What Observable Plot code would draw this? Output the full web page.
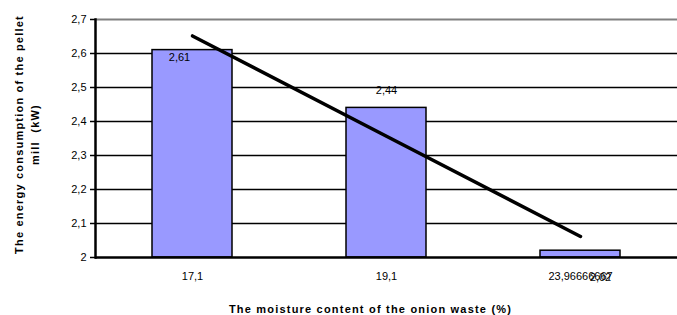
<!DOCTYPE html>
<html>
<head>
<meta charset="utf-8">
<script src="https://cdn.jsdelivr.net/npm/d3@7"></script>
<script src="https://cdn.jsdelivr.net/npm/@observablehq/plot@0.6"></script>
<style>
  html, body { margin: 0; padding: 0; background: #fff; }
  svg { font-family: "Liberation Sans", Arial, sans-serif; }
</style>
</head>
<body>
<div id="chart"></div>
<script>
// ---- data ----
const categories = ["17,1", "19,1", "23,96666667"];
const values = [2.61, 2.44, 2.02];
const valueLabels = ["2,61", "2,44", "2,02"];
const yTicks = [2, 2.1, 2.2, 2.3, 2.4, 2.5, 2.6, 2.7];
const yTickLabels = ["2", "2,1", "2,2", "2,3", "2,4", "2,5", "2,6", "2,7"];
const yDomain = [2, 2.7];
const xTitle = "The moisture content of the onion waste (%)";
const yTitle = "The energy consumption of the pellet\nmill  (kW)";

const rows = categories.map((c, i) => ({cat: c, value: values[i], label: valueLabels[i], i}));

// linear trend line (least squares over category index, as in the spreadsheet)
const xs = values.map((_, i) => i + 1);
const mx = d3.mean(xs), my = d3.mean(values);
const slope = d3.sum(xs.map((x, i) => (x - mx) * (values[i] - my))) / d3.sum(xs.map(x => (x - mx) ** 2));
const trend = categories.map((c, i) => ({cat: c, value: my + slope * (xs[i] - mx)}));

const labelOffsets = [[-13, 7], [0, -17], [20, 27]];

const plot = Plot.plot({
  width: 677,
  height: 315,
  marginLeft: 95,
  marginRight: 0,
  marginTop: 19,
  marginBottom: 58,
  style: {fontFamily: "Liberation Sans, Arial, sans-serif", fontSize: "11px", color: "#000"},
  x: {domain: categories, paddingInner: 0.59, paddingOuter: 0.295, label: null},
  y: {domain: yDomain, label: null},
  marks: [
    Plot.ruleY(yTicks.filter(t => t > yDomain[0] && t < yDomain[1]), {stroke: "#000", strokeWidth: 1.6}),
    Plot.ruleY([yDomain[1]], {stroke: "#808080", strokeWidth: 2}),
    Plot.barY(rows, {x: "cat", y1: () => yDomain[0], y2: "value", fill: "#9999ff", stroke: "#000", strokeWidth: 1.5}),
    Plot.line(trend, {x: "cat", y: "value", stroke: "#000", strokeWidth: 3.5}),
    Plot.ruleY([yDomain[0]], {stroke: "#000", strokeWidth: 2.5}),
    Plot.frame({anchor: "left", stroke: "#000", strokeWidth: 2.5}),
    Plot.axisY({ticks: yTicks, tickFormat: d => yTickLabels[yTicks.indexOf(d)], tickSize: 5, tickPadding: 4, stroke: "#000", strokeWidth: 1.5, fontSize: 11, label: null}),
    Plot.axisX({tickSize: 0, tickPadding: 15, fontSize: 11, label: null}),
    ...rows.map((r, i) => Plot.text([r], {x: "cat", y: "value", text: "label", fontSize: 11, fill: "#000", dx: labelOffsets[i][0], dy: labelOffsets[i][1]})),
    Plot.text([xTitle], {frameAnchor: "bottom", dy: 55, dx: -16, fontWeight: "bold", fontSize: 11, fill: "#000"}),
    Plot.text([yTitle], {frameAnchor: "left", textAnchor: "middle", rotate: -90, dx: -70, dy: -4, fontWeight: "bold", fontSize: 11, fill: "#000", lineHeight: 1.45})
  ]
});
d3.select(plot).selectAll("text")
  .filter(function () { return this.textContent === xTitle || this.textContent.startsWith("The energy") || this.textContent.startsWith("mill"); })
  .style("letter-spacing", "1.2px");
document.getElementById("chart").appendChild(plot);
</script>
</body>
</html>
